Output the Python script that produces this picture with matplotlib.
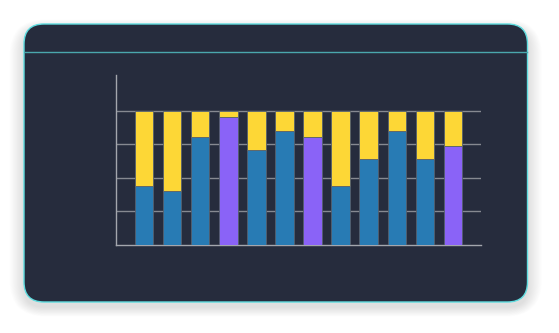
import numpy as np
import matplotlib
matplotlib.use("Agg")
import matplotlib.pyplot as plt
from matplotlib.patches import FancyBboxPatch

# share of each bar taken by the lower segment (percent)
categories = ["A", "B", "C", "D", "E", "F", "G", "H", "I", "J", "K", "L"]
lower_share = [44, 40, 80, 95, 71, 85, 80, 44, 64, 85, 64, 74]
upper_share = [100 - v for v in lower_share]
highlighted = [False, False, False, True, False, False, True, False, False, False, False, True]

W, H = 559, 333
BG = "#262c3d"
BLUE = "#287bb4"
PURPLE = "#8a63f7"
YELLOW = "#fdd736"
TEAL = "#5fdde0"


def main():
    fig = plt.figure(figsize=(W / 100, H / 100), dpi=100)
    fig.patch.set_facecolor("white")

    # pixel-space canvas for the card
    bg = fig.add_axes([0, 0, 1, 1])
    bg.set_xlim(0, W)
    bg.set_ylim(H, 0)
    bg.axis("off")

    x0, y0, x1, y1 = 24, 24, 527.5, 302
    r = 20
    # soft drop shadow
    for i in range(16, 0, -1):
        sh = FancyBboxPatch((x0 - i * 0.9, y0 - i * 0.6 + 5), (x1 - x0) + i * 1.8,
                            (y1 - y0) + i * 1.2,
                            boxstyle=f"round,pad=0,rounding_size={r + i}",
                            facecolor="black", edgecolor="none", alpha=0.006)
        bg.add_patch(sh)
    card = FancyBboxPatch((x0, y0), x1 - x0, y1 - y0,
                          boxstyle=f"round,pad=0,rounding_size={r}",
                          facecolor=BG, edgecolor=TEAL, linewidth=1.0)
    bg.add_patch(card)
    bg.plot([x0 + 0.5, x1 - 0.5], [52, 52], color="#4aa7ad", lw=1.0)

    # chart area
    left, right, top, bottom = 116, 481, 75, 245
    ax = fig.add_axes([left / W, (H - bottom) / H, (right - left) / W, (bottom - top) / H])
    ax.set_facecolor("none")

    x = np.arange(len(categories))
    lower_colors = [PURPLE if h else BLUE for h in highlighted]
    ax.bar(x, lower_share, width=0.66, color=lower_colors,
           edgecolor="#55606e", linewidth=0.6, zorder=3)
    ax.bar(x, upper_share, width=0.66, bottom=lower_share, color=YELLOW,
           edgecolor="#55606e", linewidth=0.6, zorder=3)

    ax.set_xlim(-1, len(categories))
    ax.set_ylim(0, 126.5)
    ax.set_yticks([25, 50, 75, 100])
    ax.set_xticks([])
    ax.tick_params(length=0, labelleft=False)
    ax.grid(axis="y", color="#868991", linewidth=1.0, zorder=1)
    for side in ("top", "right"):
        ax.spines[side].set_visible(False)
    for side in ("left", "bottom"):
        ax.spines[side].set_color("#a3a6ad")
        ax.spines[side].set_linewidth(1.0)

    fig.savefig("out.png", dpi=100)


if __name__ == "__main__":
    main()
